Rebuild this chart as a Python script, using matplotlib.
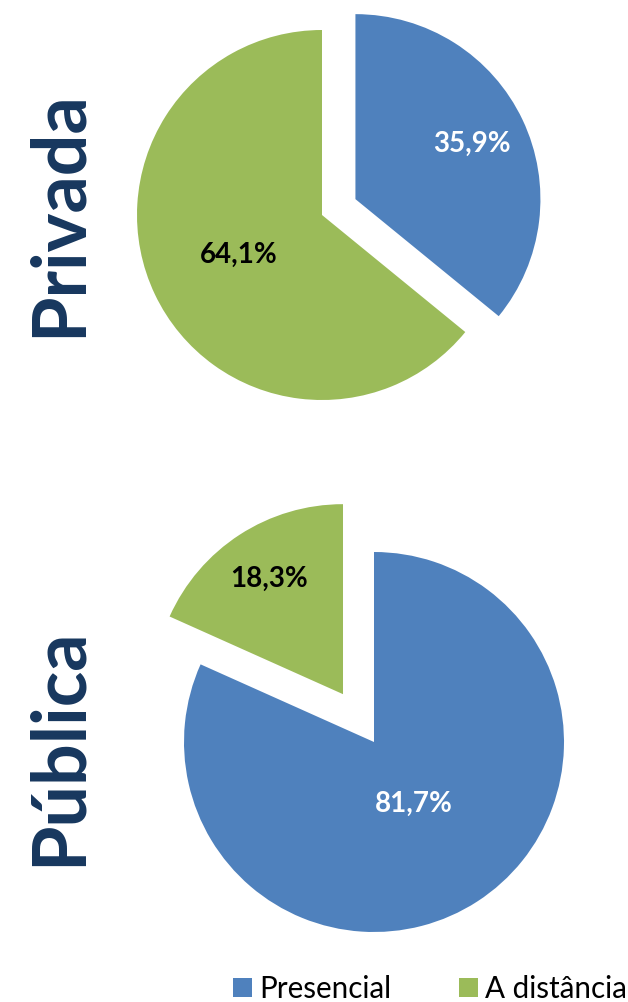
import numpy as np
import matplotlib
matplotlib.use("Agg")
import matplotlib.pyplot as plt
from matplotlib.patches import Patch

plt.rcParams["font.family"] = ["Lato", "DejaVu Sans"]

categories = ["Presencial", "A distância"]
privada = [35.9, 64.1]
publica = [81.7, 18.3]
colors = ["#4F81BD", "#9BBB59"]
navy = "#17375E"

W, H = 628, 1002
HALF = 1.4
fig = plt.figure(figsize=(W / 100, H / 100), dpi=100)


def pie_axes(cx, cy, r):
    """Axes whose data unit 1 equals r pixels, centred on pixel (cx, cy)."""
    return fig.add_axes([(cx - HALF * r) / W, (H - cy - HALF * r) / H,
                         2 * HALF * r / W, 2 * HALF * r / H])


def draw_pie(ax, values, explode, label_dist, label_colors):
    wedges, _ = ax.pie(values, colors=colors, explode=explode, startangle=90,
                       counterclock=False, radius=1.0,
                       wedgeprops=dict(linewidth=0))
    # pie() resets the limits, so set them afterwards
    ax.set_xlim(-HALF, HALF)
    ax.set_ylim(-HALF, HALF)
    ax.set_aspect("equal")
    ax.axis("off")
    for w, v, d, c in zip(wedges, values, label_dist, label_colors):
        mid = np.deg2rad((w.theta1 + w.theta2) / 2)
        x0, y0 = w.center
        ax.text(x0 + d * np.cos(mid), y0 + d * np.sin(mid),
                f"{v:.1f}%".replace(".", ","), ha="center", va="center",
                fontsize=20, fontweight="bold", color=c)


ax_top = pie_axes(322, 215, 185)
draw_pie(ax_top, privada, [0.2, 0], [0.70, 0.50], ["white", "black"])

ax_bot = pie_axes(374, 742, 190)
draw_pie(ax_bot, publica, [0, 0.3], [0.39, 0.72], ["white", "black"])

fig.text(59 / W, 1 - 214 / H, "Privada", rotation=90, ha="center",
         va="center", fontsize=53, fontweight="bold", color=navy)
fig.text(59 / W, 1 - 747 / H, "Pública", rotation=90, ha="center",
         va="center", fontsize=53, fontweight="bold", color=navy)

handles = [Patch(facecolor=c, edgecolor="none") for c in colors]
fig.legend(handles, categories, loc="lower right",
           bbox_to_anchor=(627 / W, -1 / H), ncol=2, frameon=False,
           fontsize=21.3, handlelength=0.62, handleheight=0.62,
           handletextpad=0.25, columnspacing=2.3, borderpad=0,
           borderaxespad=0)

fig.savefig("out.png", dpi=100)
